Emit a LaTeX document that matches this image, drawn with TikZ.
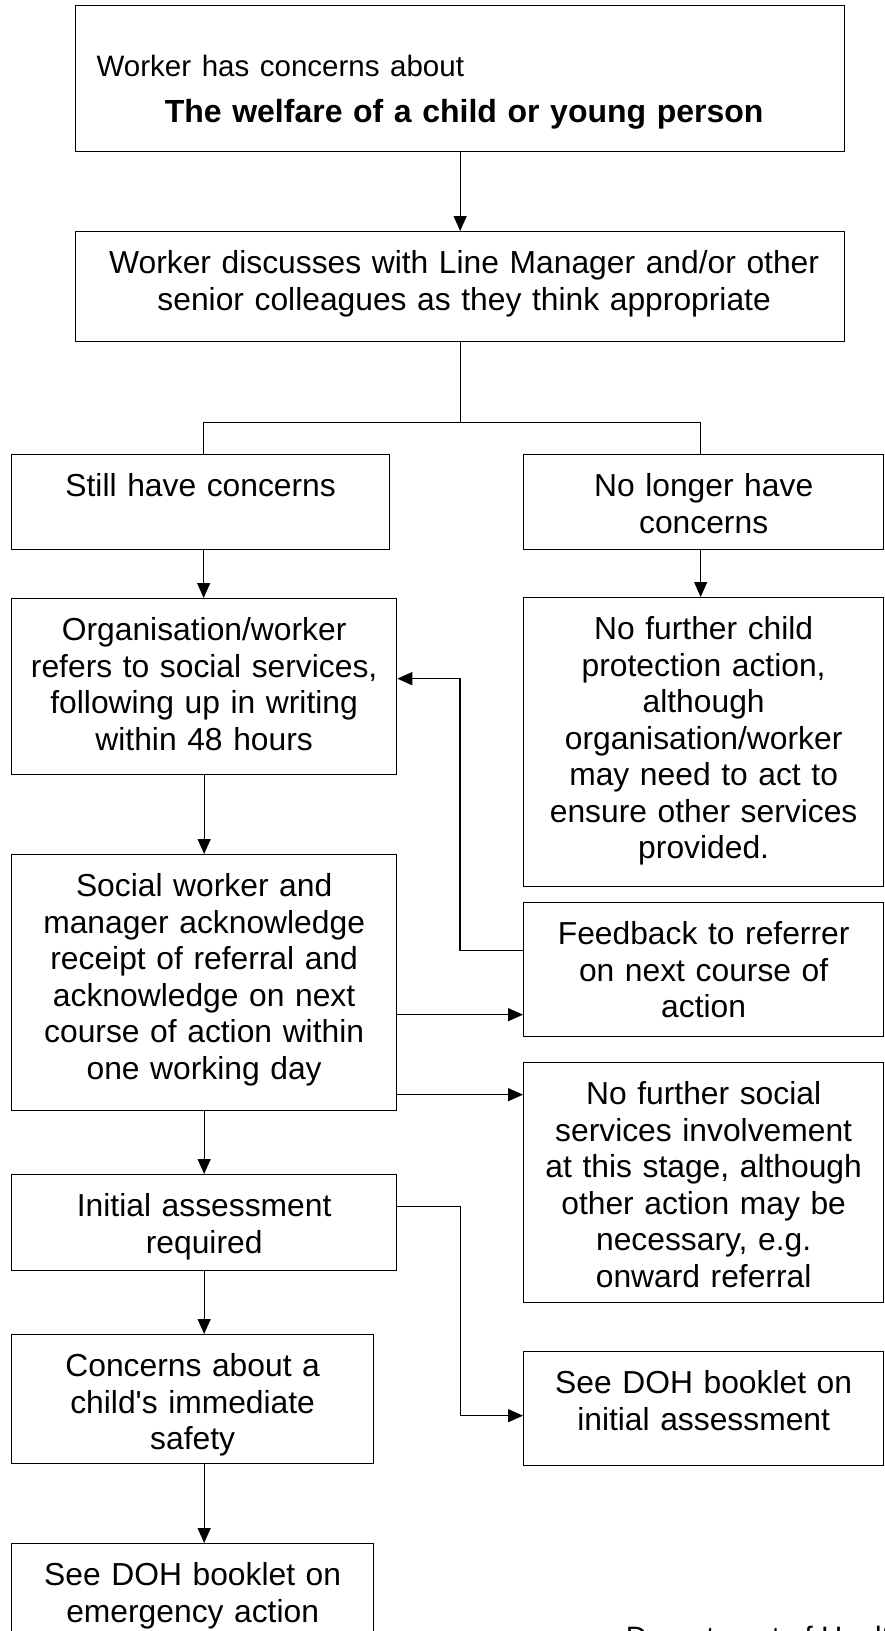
\documentclass[tikz,border=0pt]{standalone}
\usepackage{fontspec}
\setmainfont{Liberation Sans}
\usetikzlibrary{arrows.meta}

\begin{document}
\begin{tikzpicture}[x=1pt,y=-1pt,line width=1.3pt,
        flowbox/.style={draw, anchor=north west, align=center,
                        inner xsep=4pt, inner ysep=0pt, text height=42pt,
                        font=\fontsize{31.8}{36.5}\selectfont},
        arr/.style={-{Triangle[length=15pt,width=13pt]}}]
    \useasboundingbox (0,0) rectangle (884,1631);

    % left column
    \node[flowbox, align=left, text width=761pt, text height=71pt, text depth=75pt] (top) at (75,5)
        {\hspace*{17pt}{\fontsize{29.5}{36}\selectfont Worker has concerns about}\par
         {\centering\bfseries\fontsize{32}{45.5}\selectfont \hspace*{8pt}The welfare of a child or young person\par}};
    \node[flowbox, text width=761pt, text depth=68pt] (discuss) at (75,231)
        {\hspace*{8pt}Worker discusses with Line Manager and/or other\\\hspace*{8pt}senior colleagues as they think appropriate};
    \node[flowbox, text width=370pt, text depth=53pt] (still) at (11,454) {Still have concerns};
    \node[flowbox, text width=377pt, text depth=134pt] (refers) at (11,598)
        {Organisation/worker\\refers to social services,\\following up in writing\\within 48 hours};
    \node[flowbox, text width=377pt, text depth=214pt] (social) at (11,854)
        {Social worker and\\manager acknowledge\\receipt of referral and\\acknowledge on next\\course of action within\\one working day};
    \node[flowbox, text width=377pt, text depth=54pt] (initial) at (11,1174)
        {Initial assessment\\required};
    \node[flowbox, text width=354pt, text depth=87pt] (immediate) at (11,1334)
        {Concerns about a\\child\textquotesingle s immediate\\safety};
    \node[flowbox, text width=354pt, text depth=108pt] (emergency) at (11,1543)
        {See DOH booklet on\\emergency action};

    % right column
    \node[flowbox, text width=352pt, text depth=53pt] (nolonger) at (523,454)
        {No longer have\\concerns};
    \node[flowbox, text width=352pt, text depth=247pt] (nofurther) at (523,597)
        {No further child\\protection action,\\although\\organisation/worker\\may need to act to\\ensure other services\\provided.};
    \node[flowbox, text width=352pt, text depth=92pt] (feedback) at (523,902)
        {Feedback to referrer\\on next course of\\action};
    \node[flowbox, text width=352pt, text depth=198pt] (nosocial) at (523,1062)
        {No further social\\services involvement\\at this stage, although\\other action may be\\necessary, e.g.\\onward referral};
    \node[flowbox, text width=352pt, text depth=72pt] (seeinit) at (523,1351)
        {See DOH booklet on\\initial assessment};

    \node[anchor=base west, font=\fontsize{29.5}{36}\selectfont] (dept) at (622,1647) {Department of Health};

    % connectors
    \draw[arr] (top.south) -- (discuss.north);
    \draw (discuss.south) -- ++(0,80) coordinate (split);
    \draw (split) -| ([xshift=3pt]still.north);
    \draw (split) -| ([xshift=-3pt]nolonger.north);
    \draw[arr] ([xshift=3pt]still.south) -- ([xshift=3pt]still.south |- refers.north);
    \draw[arr] ([xshift=-3pt]nolonger.south) -- ([xshift=-3pt]nolonger.south |- nofurther.north);
    \draw[arr] (refers.south) -- (social.north);
    \draw[arr] ([yshift=19pt]feedback.west) -- ++(-63,0) |- ([yshift=8pt]refers.east);
    \draw[arr] ([yshift=-32pt]social.east) -- ([yshift=-32pt]social.east -| feedback.west);
    \draw[arr] ([yshift=-112pt]social.east) -- ([yshift=-112pt]social.east -| nosocial.west);
    \draw[arr] (social.south) -- (initial.north);
    \draw[arr] ([yshift=16pt]initial.east) -- ++(63,0) |- ([yshift=-7pt]seeinit.west);
    \draw[arr] (initial.south) -- (initial.south |- immediate.north);
    \draw[arr] (initial.south |- immediate.south) -- (initial.south |- emergency.north);
\end{tikzpicture}
\end{document}
